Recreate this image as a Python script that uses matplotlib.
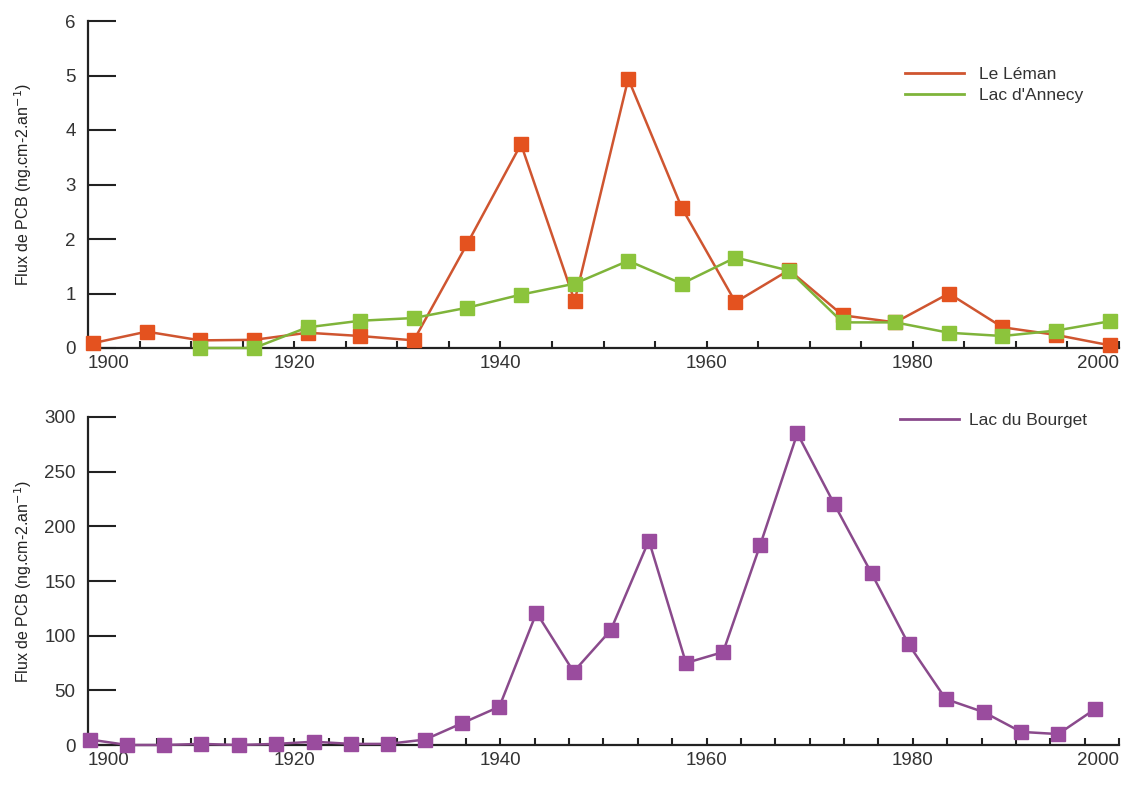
import matplotlib
matplotlib.use("Agg")
import matplotlib.pyplot as plt
import numpy as np
from matplotlib.ticker import FixedLocator
from matplotlib.lines import Line2D

plt.rcParams['font.family'] = ['Liberation Sans', 'DejaVu Sans']

# ---- data ----
years_leman = [1900.5, 1905.7, 1910.9, 1916.1, 1921.3, 1926.4, 1931.6, 1936.8, 1942.0, 1947.2,
               1952.4, 1957.6, 1962.8, 1968.0, 1973.2, 1978.3, 1983.5, 1988.7, 1993.9, 1999.1]
leman = [0.09, 0.30, 0.14, 0.15, 0.28, 0.22, 0.14, 1.92, 3.74, 0.86,
         4.94, 2.57, 0.84, 1.43, 0.60, 0.47, 1.00, 0.38, 0.24, 0.05]

years_annecy = [1910.9, 1916.1, 1921.3, 1926.4, 1931.6, 1936.8, 1942.0, 1947.2, 1952.4,
                1957.6, 1962.8, 1968.0, 1973.2, 1978.3, 1983.5, 1988.7, 1993.9, 1999.1]
annecy = [0.0, 0.0, 0.38, 0.50, 0.55, 0.74, 0.98, 1.18, 1.60,
          1.18, 1.66, 1.42, 0.47, 0.47, 0.28, 0.22, 0.32, 0.49]

years_bourget = [1900.2, 1903.8, 1907.4, 1911.0, 1914.6, 1918.2, 1921.9, 1925.5, 1929.1, 1932.7,
                 1936.3, 1939.9, 1943.5, 1947.1, 1950.7, 1954.4, 1958.0, 1961.6, 1965.2, 1968.8,
                 1972.4, 1976.0, 1979.6, 1983.2, 1986.9, 1990.5, 1994.1, 1997.7]
bourget = [5, 0, 0, 1, 0, 1, 3, 1, 1, 5,
           20, 35, 121, 67, 105, 187, 75, 85, 183, 285,
           220, 157, 92, 42, 30, 12, 10, 33]

xticks_major = [1900, 1920, 1940, 1960, 1980, 2000]
xticklabels = ['1900', '1920', '1940', '1960', '1980', '2000']
yticks_top = [0, 1, 2, 3, 4, 5, 6]
yticks_bot = [0, 50, 100, 150, 200, 250, 300]

ylabel = r'Flux de PCB (ng.cm-2.an$^{-1}$)'

c_red_m, c_red_l = '#e4521f', '#cf5530'
c_grn_m, c_grn_l = '#8cc43c', '#7fb43a'
c_pur_m, c_pur_l = '#9a4c9e', '#8a4a8c'

fig = plt.figure(figsize=(11.26, 7.85), dpi=100)
W, H = 1126, 785
ax1 = fig.add_axes([88 / W, 1 - 348 / H, 1031 / W, 327 / H])
ax2 = fig.add_axes([88 / W, 1 - 745 / H, 1031 / W, 328 / H])

fs_tick = 13.5
fs_lab = 11.5
fs_leg = 12.5
for ax in (ax1, ax2):
    for s in ('top', 'right'):
        ax.spines[s].set_visible(False)
    for s in ('left', 'bottom'):
        ax.spines[s].set_linewidth(1.6)
        ax.spines[s].set_color('#222222')
    ax.set_xlim(1900, 2000)
    ax.xaxis.set_major_locator(FixedLocator(xticks_major))
    ax.set_xticklabels(xticklabels)
    ax.tick_params(axis='x', which='both', direction='in', length=5, width=1.5,
                   color='#222222', labelsize=fs_tick, labelcolor='#333333', pad=5)
    ax.tick_params(axis='y', which='major', direction='in', length=20, width=1.5,
                   color='#222222', labelsize=fs_tick, labelcolor='#333333', pad=9)
    labs = ax.get_xticklabels()
    labs[0].set_ha('left')
    labs[-1].set_ha('right')
    ax.yaxis.set_label_coords(-0.052, 0.5)

ax1.xaxis.set_minor_locator(FixedLocator(np.arange(1900, 2000.1, 5)))
ax2.xaxis.set_minor_locator(FixedLocator(np.arange(1900, 2000.1, 20 / 6)))

ax1.plot(years_leman, leman, color=c_red_l, lw=1.8, marker='s', ms=10,
         mfc=c_red_m, mec=c_red_m, clip_on=False, zorder=3, label='Le Léman')
ax1.plot(years_annecy, annecy, color=c_grn_l, lw=1.8, marker='s', ms=10,
         mfc=c_grn_m, mec=c_grn_m, clip_on=False, zorder=3, label="Lac d'Annecy")
ax1.set_ylim(0, 6)
ax1.set_yticks(yticks_top)
ax1.set_ylabel(ylabel, fontsize=fs_lab, color='#222222')

ax2.plot(years_bourget, bourget, color=c_pur_l, lw=1.8, marker='s', ms=10,
         mfc=c_pur_m, mec=c_pur_m, clip_on=False, zorder=3, label='Lac du Bourget')
ax2.set_ylim(0, 300)
ax2.set_yticks(yticks_bot)
ax2.set_ylabel(ylabel, fontsize=fs_lab, color='#222222')

h1 = [Line2D([], [], color=c_red_l, lw=2), Line2D([], [], color=c_grn_l, lw=2)]
leg1 = ax1.legend(h1, ['Le Léman', "Lac d'Annecy"], loc='upper left',
                  bbox_to_anchor=(0.7924, 0.86), frameon=False, fontsize=fs_leg,
                  handlelength=3.4, handletextpad=0.85, labelspacing=0.35,
                  borderpad=0, borderaxespad=0)
h2 = [Line2D([], [], color=c_pur_l, lw=2)]
leg2 = ax2.legend(h2, ['Lac du Bourget'], loc='upper left',
                  bbox_to_anchor=(0.7876, 1.012), frameon=False, fontsize=fs_leg,
                  handlelength=3.4, handletextpad=0.6, borderpad=0, borderaxespad=0)
for leg in (leg1, leg2):
    for t in leg.get_texts():
        t.set_color('#333333')

fig.savefig('out.png', dpi=100)
